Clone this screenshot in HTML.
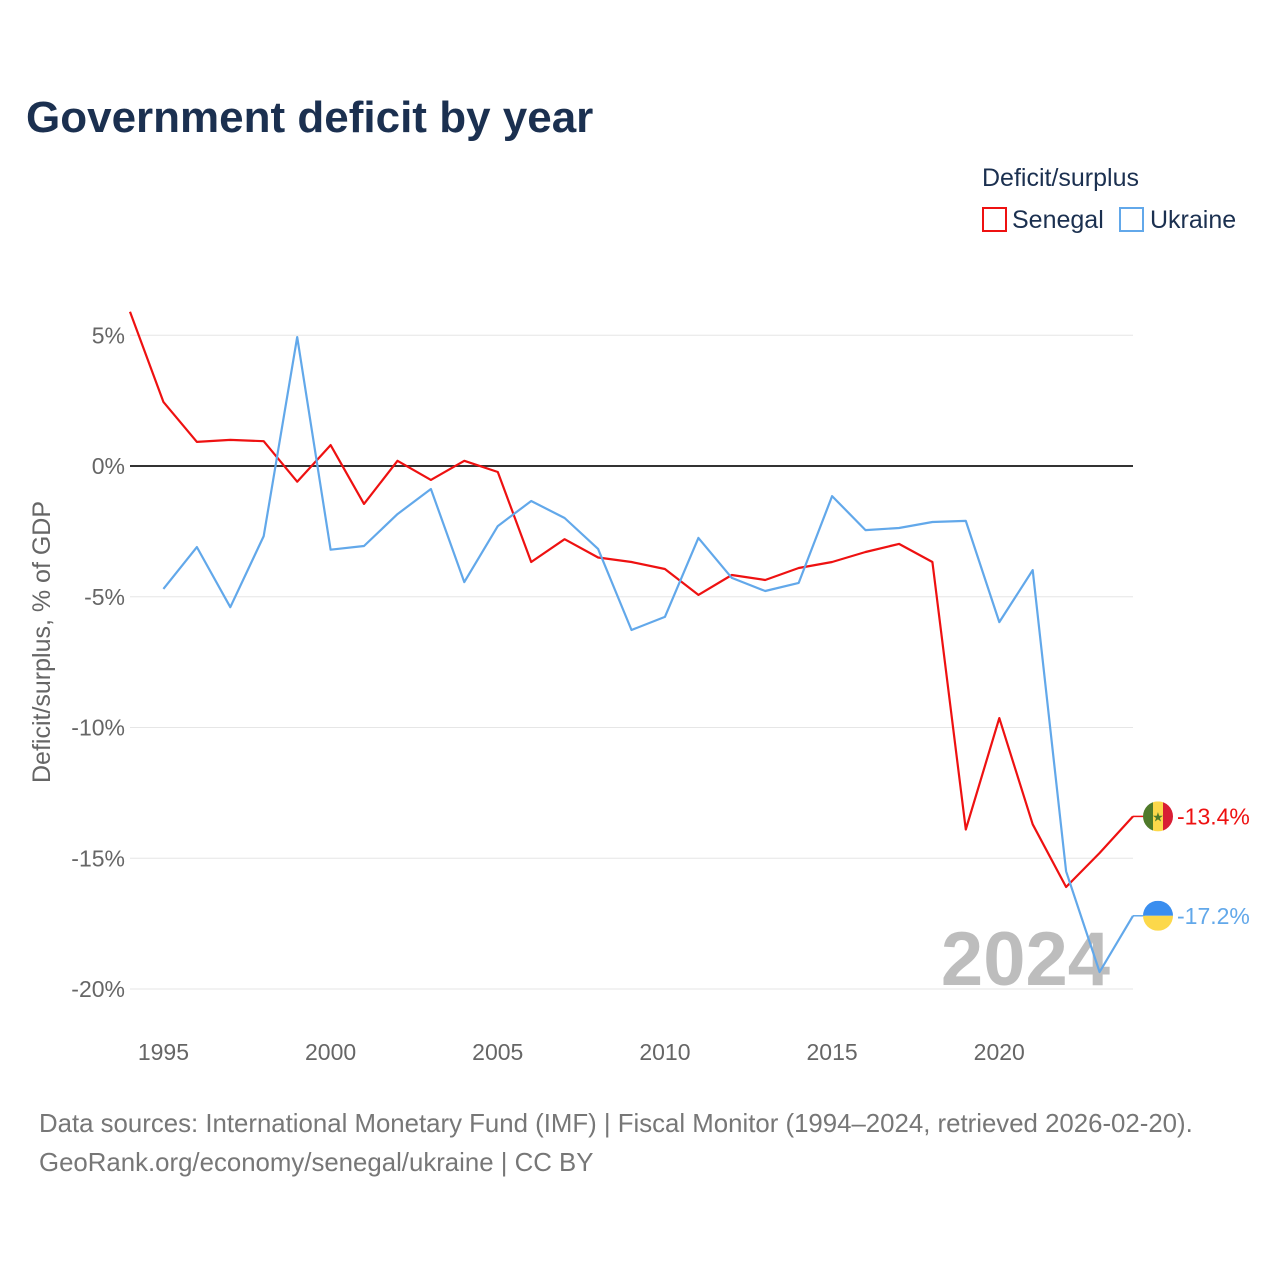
<!DOCTYPE html>
<html><head><meta charset="utf-8"><style>
body{margin:0;background:#fff;font-family:"Liberation Sans",sans-serif;}
svg text{font-family:"Liberation Sans",sans-serif;}
</style></head><body>
<svg id="chart" width="1280" height="1280" viewBox="0 0 1280 1280" xmlns="http://www.w3.org/2000/svg">
<text x="26" y="132" font-size="44" font-weight="bold" fill="#1b3050">Government deficit by year</text>
<text x="982" y="186" font-size="25" fill="#1b3050">Deficit/surplus</text>
<g><rect x="983" y="208" width="23" height="23" fill="none" stroke="#ee1111" stroke-width="2"/><text x="1012" y="228" font-size="25" fill="#1b3050">Senegal</text></g>
<g><rect x="1120" y="208" width="23" height="23" fill="none" stroke="#62a8ea" stroke-width="2"/><text x="1150" y="228" font-size="25" fill="#1b3050">Ukraine</text></g>
<g id="grid"></g>
<text x="1110" y="985" font-size="76" font-weight="bold" fill="#bdbdbd" text-anchor="end">2024</text>
<g id="series"></g>
<text transform="translate(50,642) rotate(-90)" font-size="25" fill="#666" text-anchor="middle">Deficit/surplus, % of GDP</text>
<text x="39" y="1132" font-size="25.8" fill="#777">Data sources: International Monetary Fund (IMF) | Fiscal Monitor (1994–2024, retrieved 2026-02-20).</text>
<text x="39" y="1171" font-size="25.8" fill="#777">GeoRank.org/economy/senegal/ukraine | CC BY</text>
</svg>
<script>
const years=[1994,1995,1996,1997,1998,1999,2000,2001,2002,2003,2004,2005,2006,2007,2008,2009,2010,2011,2012,2013,2014,2015,2016,2017,2018,2019,2020,2021,2022,2023,2024];
const senegal=[5.9,2.45,0.92,1.0,0.95,-0.6,0.8,-1.45,0.2,-0.53,0.2,-0.23,-3.67,-2.8,-3.5,-3.67,-3.94,-4.93,-4.17,-4.36,-3.9,-3.67,-3.29,-2.98,-3.67,-13.9,-9.64,-13.7,-16.1,-14.8,-13.4];
const ukraine=[null,-4.7,-3.1,-5.4,-2.68,4.93,-3.2,-3.06,-1.84,-0.88,-4.44,-2.3,-1.34,-1.99,-3.17,-6.27,-5.77,-2.75,-4.28,-4.78,-4.47,-1.15,-2.45,-2.37,-2.14,-2.1,-5.97,-3.98,-15.5,-19.35,-17.2];
const yTicks=[5,0,-5,-10,-15,-20];
const xTicks=[1995,2000,2005,2010,2015,2020];
const NS="http://www.w3.org/2000/svg";
const X=y=>130+(y-1994)*(1133-130)/30;
const Y=v=>466-v*26.15;
function mk(t,a,p){const e=document.createElementNS(NS,t);for(const k in a)e.setAttribute(k,a[k]);p.appendChild(e);return e;}
const grid=document.getElementById('grid'),ser=document.getElementById('series');
yTicks.forEach(v=>{
 const l=mk('line',{x1:130,x2:1133,y1:Y(v),y2:Y(v),stroke:v===0?'#333':'#e6e6e6','stroke-width':v===0?2:1},grid);
 
 
 const t=mk('text',{x:125,y:Y(v)+8,'font-size':23,fill:'#666','text-anchor':'end'},grid);
 t.textContent=v+'%';
 
 
});
xTicks.forEach(v=>{
 const t=mk('text',{x:X(v),y:1060,'font-size':23,fill:'#666','text-anchor':'middle'},grid);
 t.textContent=v;
 
 
});
function line(vals,color,name){
 const pts=[];vals.forEach((v,i)=>{if(v!==null)pts.push(X(years[i]).toFixed(1)+','+Y(v).toFixed(1));});
 const p=mk('polyline',{points:pts.join(' '),fill:'none',stroke:color,'stroke-width':2.2,'stroke-linejoin':'round'},ser);
 
 
 const last=vals[vals.length-1],ly=Y(last);
 mk('line',{x1:1133,x2:1145,y1:ly,y2:ly,stroke:color,'stroke-width':1.5},ser);
 const t=mk('text',{x:1177,y:ly+8,'font-size':23,fill:color},ser);
 t.textContent=last.toFixed(1)+'%';
 
 
 return ly;
}
const sy=line(senegal,'#ee1111','senegal');
const uy=line(ukraine,'#62a8ea','ukraine');
const cx=1158,r=15;
mk('clipPath',{id:'cs'},ser).appendChild(document.createElementNS(NS,'circle'));
const cs=document.querySelector('#cs circle');cs.setAttribute('cx',cx);cs.setAttribute('cy',sy);cs.setAttribute('r',r);
const fs=mk('g',{'clip-path':'url(#cs)'},ser);


mk('rect',{x:cx-r,y:sy-r,width:10,height:30,fill:'#4f7a2a'},fs);
mk('rect',{x:cx-5,y:sy-r,width:10,height:30,fill:'#fcd84a'},fs);
mk('rect',{x:cx+5,y:sy-r,width:10,height:30,fill:'#d81e34'},fs);
const st=mk('text',{x:cx,y:sy+5,'font-size':13,fill:'#4f7a2a','text-anchor':'middle'},fs);st.textContent='★';
mk('clipPath',{id:'cu'},ser).appendChild(document.createElementNS(NS,'circle'));
const cu=document.querySelector('#cu circle');cu.setAttribute('cx',cx);cu.setAttribute('cy',uy);cu.setAttribute('r',r);
const fu=mk('g',{'clip-path':'url(#cu)'},ser);


mk('rect',{x:cx-r,y:uy-r,width:30,height:15,fill:'#3a8eef'},fu);
mk('rect',{x:cx-r,y:uy,width:30,height:15,fill:'#fcd84a'},fu);
</script>
</body></html>
